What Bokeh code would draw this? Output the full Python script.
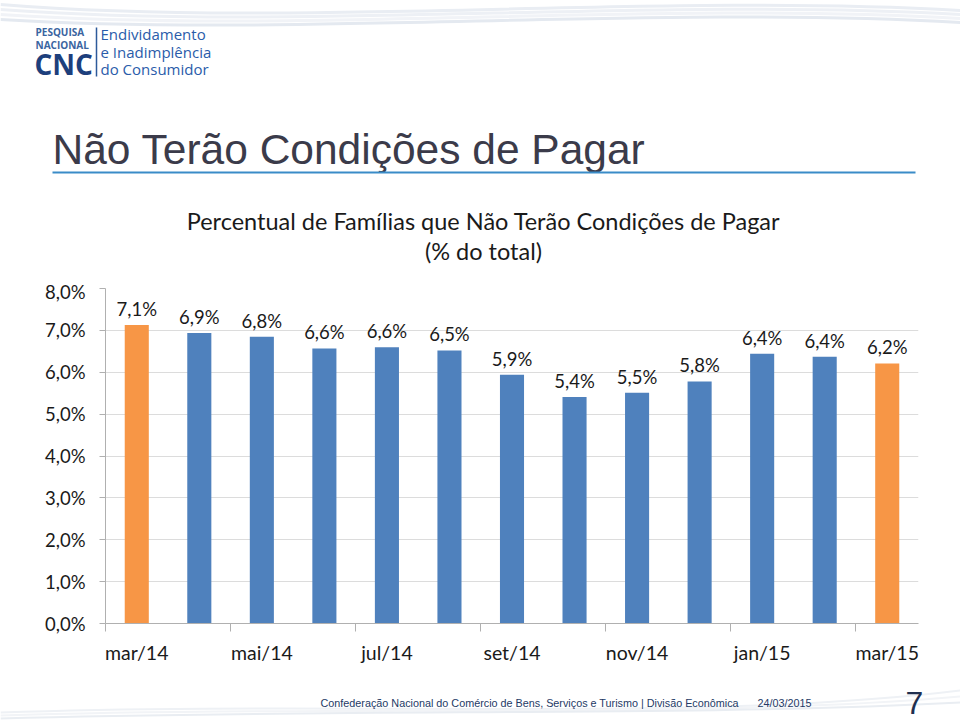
from bokeh.plotting import figure
from bokeh.models import ColumnDataSource, LabelSet, FixedTicker, Range1d
from bokeh.layouts import column
from bokeh.core.properties import value
from bokeh.embed import file_html
from bokeh.resources import INLINE

# ---------------- data ----------------
months = ["mar/14", "abr/14", "mai/14", "jun/14", "jul/14", "ago/14", "set/14",
          "out/14", "nov/14", "dez/14", "jan/15", "fev/15", "mar/15"]
values = [7.13, 6.94, 6.85, 6.57, 6.60, 6.52, 5.94, 5.41, 5.51, 5.78, 6.44, 6.37, 6.21]
highlight = [True, False, False, False, False, False, False, False, False, False,
             False, False, True]
y_ticks = [0, 1, 2, 3, 4, 5, 6, 7, 8]

chart_title = "Percentual de Famílias que Não Terão Condições de Pagar"
chart_subtitle = "(% do total)"
slide_title = "Não Terão Condições de Pagar"
footer = "Confederação Nacional do Comércio de Bens, Serviços e Turismo | Divisão Econômica"
footer_date = "24/03/2015"
page_no = "7"

# ---------------- style ----------------
BLUE = "#4f81bd"
ORANGE = "#f79646"
TXT = "#1a1a1a"
CFONT = "Lato"
W = 960
HEAD_H, CHART_H, FOOT_H = 280, 400, 40


def deco_fig(h, y0):
    f = figure(width=W, height=h, x_range=Range1d(0, W), y_range=Range1d(y0 + h, y0),
               output_backend="svg", toolbar_location=None,
               x_axis_location=None, y_axis_location=None, min_border=0)
    f.frame_align = False
    f.outline_line_color = None
    f.grid.grid_line_color = None
    f.background_fill_color = "white"
    f.border_fill_color = "white"
    return f


def txt(f, s, X, Y, size, color, font, align="left", style="normal"):
    f.text(x=[X], y=[Y], text=[s], text_font=value(font), text_font_size=f"{size}px",
           text_color=color, text_align=align, text_baseline="middle",
           text_font_style=style)


# ---------------- header ----------------
hd = deco_fig(HEAD_H, 0)
for i, c in enumerate(["#e9edf3", "#edf0f5", "#f1f3f7", "#e4e9f0"]):
    hd.bezier(x0=[0], y0=[4 + i * 5], x1=[W], y1=[10 + i * 4],
              cx0=[300], cy0=[28 + i * 3], cx1=[650], cy1=[-8 + i * 4],
              line_color=c, line_width=3)
txt(hd, "PESQUISA", 35, 31, 10, "#3a64a0", "Open Sans", style="bold")
txt(hd, "NACIONAL", 35, 44, 10, "#3a64a0", "Open Sans", style="bold")
txt(hd, "CNC", 34, 63, 28, "#1d3f7c", "Open Sans", style="bold")
hd.segment(x0=[96], y0=[27], x1=[96], y1=[76], line_color="#2d5a9a", line_width=1.5)
txt(hd, "Endividamento", 100, 33, 15, "#2a5caa", "Open Sans")
txt(hd, "e Inadimplência", 100, 51, 15, "#2a5caa", "Open Sans")
txt(hd, "do Consumidor", 100, 68, 15, "#2a5caa", "Open Sans")

txt(hd, slide_title, 52, 149, 42.5, "#3b3b4a", "Liberation Sans")
hd.segment(x0=[52], y0=[172], x1=[915], y1=[172], line_color="#3a8cc8", line_width=2)

txt(hd, chart_title, 483, 220, 23.5, TXT, CFONT, align="center")
txt(hd, chart_subtitle, 483, 250, 23.5, TXT, CFONT, align="center")

# ---------------- chart ----------------
xs = list(range(len(months)))
labels = [f"{v:.1f}".replace(".", ",") + "%" for v in values]
colors = [ORANGE if h else BLUE for h in highlight]
src = ColumnDataSource(dict(x=xs, v=values, lbl=labels, color=colors))

p = figure(width=W, height=CHART_H, x_range=Range1d(-0.5, len(months) - 0.5),
           y_range=Range1d(0, 8), output_backend="svg", toolbar_location=None,
           min_border_left=105, min_border_right=42, min_border_top=8,
           min_border_bottom=57)
p.frame_align = False
p.outline_line_color = None
p.background_fill_color = "white"
p.border_fill_color = "white"

p.vbar(x="x", top="v", width=0.385, color="color", line_color=None, source=src)

p.add_layout(LabelSet(x="x", y="v", text="lbl", source=src, y_offset=5,
                      text_align="center", text_baseline="bottom",
                      text_font=value(CFONT), text_font_size="18.5px",
                      text_color=TXT))

ya = p.yaxis[0]
ya.ticker = FixedTicker(ticks=y_ticks)
ya.major_label_overrides = {t: f"{t},0%" for t in y_ticks}
ya.major_label_text_font = CFONT
ya.major_label_text_font_size = "18.5px"
ya.major_label_text_color = TXT
ya.axis_line_color = "#b0b0b0"
ya.major_tick_line_color = "#b0b0b0"
ya.major_tick_out = 6
ya.major_tick_in = 0
ya.minor_tick_line_color = None
ya.major_label_standoff = 14

xa = p.xaxis[0]
xa.ticker = FixedTicker(ticks=xs[::2], minor_ticks=[i - 0.5 for i in xs[::2]])
xa.major_label_overrides = {i: months[i] for i in xs[::2]}
xa.major_label_text_font = CFONT
xa.major_label_text_font_size = "19.5px"
xa.major_label_text_color = TXT
xa.axis_line_color = "#b0b0b0"
xa.major_tick_line_color = None
xa.major_tick_out = 8
xa.major_tick_in = 0
xa.minor_tick_line_color = "#b0b0b0"
xa.minor_tick_out = 8
xa.minor_tick_in = 0
xa.major_label_standoff = 9

p.xgrid.grid_line_color = None
p.ygrid.grid_line_color = "#dcdcdc"
p.ygrid.ticker = FixedTicker(ticks=y_ticks)

# ---------------- footer ----------------
ft = deco_fig(FOOT_H, HEAD_H + CHART_H)
for i, c in enumerate(["#eef1f5", "#f2f4f7", "#e9edf2"]):
    ft.bezier(x0=[0], y0=[712 + i * 3], x1=[W], y1=[690 + i * 6],
              cx0=[350], cy0=[700 + i * 4], cx1=[700], cy1=[722 - i * 3],
              line_color=c, line_width=2)
txt(ft, footer, 320, 702, 10.8, "#243a66", "Liberation Sans")
txt(ft, footer_date, 757, 702, 10.8, "#243a66", "Liberation Sans")
txt(ft, page_no, 914, 702, 32, "#1f2f4f", "Liberation Sans", align="center")

layout = column(hd, p, ft, spacing=0)
open("out.html", "w").write(file_html(layout, INLINE))
